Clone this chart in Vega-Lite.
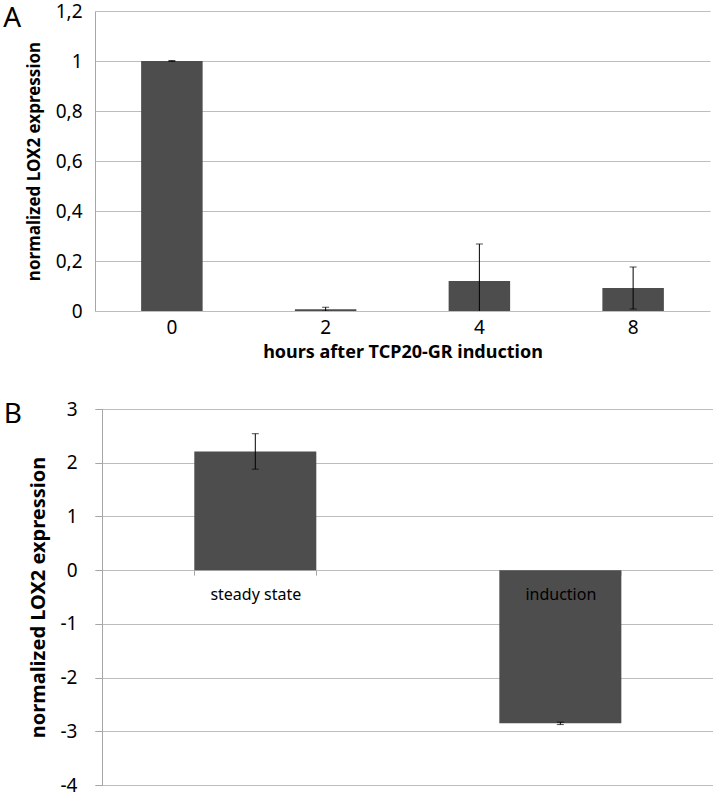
{
  "$schema": "https://vega.github.io/schema/vega-lite/v6.json",
  "padding": {"left": 3, "top": 2, "right": 0, "bottom": 0},
  "background": "white",
  "config": {
    "view": {"stroke": null},
    "font": "Noto Sans",
    "axis": {"gridColor": "#bdbdbd", "domainColor": "#a6a6a6", "tickColor": "#a6a6a6", "labelColor": "#000", "titleColor": "#000", "labelFont": "Noto Sans", "titleFont": "Noto Sans"},
    "title": {"color": "#000", "font": "Noto Sans"}
  },
  "spacing": 39,
  "vconcat": [
    {
      "width": 615,
      "height": 300,
      "title": {"text": "A", "orient": "left", "anchor": "end", "angle": 0, "fontSize": 28, "fontWeight": "normal", "baseline": "top", "align": "left", "offset": 4, "dy": 3},
      "data": {"values": [
        {"hours": "0", "value": 1.0, "lo": 0.998, "hi": 1.002},
        {"hours": "2", "value": 0.007, "lo": -0.001, "hi": 0.015},
        {"hours": "4", "value": 0.12, "lo": -0.028, "hi": 0.268},
        {"hours": "8", "value": 0.092, "lo": 0.008, "hi": 0.176}
      ]},
      "encoding": {
        "x": {"field": "hours", "type": "ordinal", "sort": null,
          "scale": {"paddingInner": 0.6, "paddingOuter": 0.3},
          "axis": {"title": "hours after TCP20-GR induction", "titleFontSize": 18, "titleFontWeight": "bold", "titlePadding": 6,
            "labelAngle": 0, "labelFontSize": 19, "labelPadding": 7, "ticks": false, "domain": false}}
      },
      "layer": [
        {"mark": {"type": "bar", "color": "#4d4d4d"},
          "encoding": {"y": {"field": "value", "type": "quantitative", "scale": {"domain": [0, 1.2]},
            "axis": {"values": [0, 0.2, 0.4, 0.6, 0.8, 1, 1.2], "labelExpr": "replace(format(datum.value, '.1~f'), '.', ',')",
              "labelFontSize": 19, "labelPadding": 13, "ticks": false, "grid": true,
              "title": "normalized LOX2 expression", "titleFontSize": 17, "titleFontWeight": "bold", "titlePadding": 12}}}},
        {"mark": {"type": "rule", "color": "#000", "strokeWidth": 1, "clip": true},
          "encoding": {"y": {"field": "lo", "type": "quantitative"}, "y2": {"field": "hi"}}},
        {"mark": {"type": "tick", "color": "#000", "thickness": 1, "size": 7, "orient": "horizontal", "clip": true},
          "encoding": {"y": {"field": "hi", "type": "quantitative"}}},
        {"mark": {"type": "tick", "color": "#000", "thickness": 1, "size": 7, "orient": "horizontal", "clip": true},
          "encoding": {"y": {"field": "lo", "type": "quantitative"}}}
      ]
    },
    {
      "width": 618,
      "height": 376,
      "title": {"text": "B", "orient": "left", "anchor": "end", "angle": 0, "fontSize": 28, "fontWeight": "normal", "baseline": "top", "align": "left", "offset": 6, "dy": 1},
      "data": {"values": [
        {"cond": "steady state", "value": 2.21, "lo": 1.88, "hi": 2.54},
        {"cond": "induction", "value": -2.85, "lo": -2.875, "hi": -2.83}
      ]},
      "encoding": {
        "x": {"field": "cond", "type": "nominal", "sort": null,
          "scale": {"paddingInner": 0.6, "paddingOuter": 0.313, "align": 0.52},
          "axis": {"title": null, "labelAngle": 0, "labelFontSize": 16, "labelPadding": 11, "tickSize": 5, "tickBand": "extent",
            "domain": false, "offset": -214.9, "zindex": 1, "tickColor": "#a6a6a6"}}
      },
      "layer": [
        {"mark": {"type": "bar", "color": "#4d4d4d"},
          "encoding": {"y": {"field": "value", "type": "quantitative", "scale": {"domain": [-4, 3]},
            "axis": {"values": [-4, -3, -2, -1, 0, 1, 2, 3], "labelExpr": "toString(datum.value)",
              "labelFontSize": 19, "labelPadding": 18, "tickSize": 7, "offset": -7, "grid": true,
              "title": "normalized LOX2 expression", "titleFontSize": 20, "titleFontWeight": "bold", "titlePadding": 12}}}},
        {"mark": {"type": "rule", "color": "#000", "strokeWidth": 1},
          "encoding": {"y": {"field": "lo", "type": "quantitative"}, "y2": {"field": "hi"}}},
        {"mark": {"type": "tick", "color": "#000", "thickness": 1, "size": 7, "orient": "horizontal"},
          "encoding": {"y": {"field": "hi", "type": "quantitative"}}},
        {"mark": {"type": "tick", "color": "#000", "thickness": 1, "size": 7, "orient": "horizontal"},
          "encoding": {"y": {"field": "lo", "type": "quantitative"}}}
      ]
    }
  ]
}
